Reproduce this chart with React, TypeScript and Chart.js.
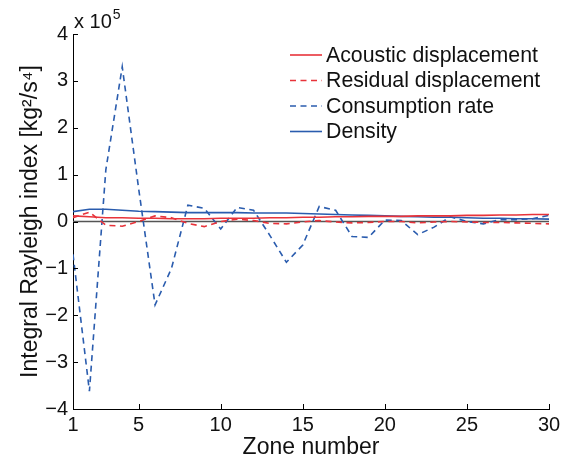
import React, { useEffect, useRef } from "react";
import { Chart, registerables } from "chart.js";

Chart.register(...registerables);

// Data (values in units of 1e5 kg^2/s^4)
const zones = [1, 2, 3, 4, 5, 6, 7, 8, 9, 10, 11, 12, 13, 14, 15, 16, 17, 18, 19, 20, 21, 22, 23, 24, 25, 26, 27, 28, 29, 30];
const acousticDisplacement = [0.12, 0.1, 0.08, 0.08, 0.07, 0.07, 0.06, 0.06, 0.06, 0.07, 0.07, 0.07, 0.08, 0.08, 0.09, 0.09, 0.1, 0.1, 0.11, 0.11, 0.11, 0.12, 0.12, 0.12, 0.13, 0.13, 0.14, 0.14, 0.15, 0.15];
const residualDisplacement = [0.08, 0.2, -0.08, -0.1, 0.0, 0.12, 0.08, -0.04, -0.11, 0.0, 0.05, 0.02, -0.04, -0.05, -0.01, 0.02, -0.01, -0.03, -0.02, 0.0, 0.0, -0.03, -0.01, 0.0, -0.01, -0.02, -0.02, -0.03, -0.04, -0.05];
const consumptionRate = [-0.7, -3.62, 1.1, 3.3, 0.7, -1.78, -1.0, 0.35, 0.28, -0.16, 0.3, 0.24, -0.3, -0.87, -0.5, 0.32, 0.24, -0.32, -0.34, 0.03, 0.02, -0.28, -0.12, 0.1, 0.0, -0.05, 0.04, 0.04, 0.06, 0.13];
const density = [0.21, 0.26, 0.26, 0.24, 0.22, 0.21, 0.2, 0.19, 0.19, 0.19, 0.19, 0.18, 0.18, 0.18, 0.17, 0.16, 0.15, 0.14, 0.13, 0.12, 0.11, 0.1, 0.09, 0.09, 0.08, 0.07, 0.07, 0.06, 0.06, 0.05];

const xTickValues = [1, 5, 10, 15, 20, 25, 30];
const yTickValues = [-4, -3, -2, -1, 0, 1, 2, 3, 4];
const yExponent = "5";

const seriesLabels = ["Acoustic displacement", "Residual displacement", "Consumption rate", "Density"];

const RED = "#e8333a";
const BLUE = "#2a5cae";
const FONT = "'Liberation Sans', Arial, Helvetica, sans-serif";

const toPoints = (vals: number[]) => zones.map((z, i) => ({ x: z, y: vals[i] }));

const decorPlugin = {
  id: "decor",
  beforeDatasetsDraw(chart: any) {
    const { ctx, chartArea, scales } = chart;
    const y0 = scales.y.getPixelForValue(0);
    ctx.save();
    ctx.strokeStyle = "#555555";
    ctx.lineWidth = 1.5;
    ctx.beginPath();
    ctx.moveTo(chartArea.left, y0);
    ctx.lineTo(chartArea.right, y0);
    ctx.stroke();
    ctx.restore();
  },
  afterDraw(chart: any) {
    const { ctx, chartArea, scales } = chart;
    ctx.save();
    // inward ticks
    ctx.strokeStyle = "#000";
    ctx.lineWidth = 1;
    ctx.beginPath();
    xTickValues.forEach((v) => {
      const px = Math.round(scales.x.getPixelForValue(v)) + 0.5;
      ctx.moveTo(px, chartArea.bottom);
      ctx.lineTo(px, chartArea.bottom - 5);
    });
    yTickValues.forEach((v) => {
      const py = Math.round(scales.y.getPixelForValue(v)) + 0.5;
      ctx.moveTo(chartArea.left, py);
      ctx.lineTo(chartArea.left + 5, py);
    });
    ctx.stroke();

    // exponent label
    ctx.fillStyle = "#111";
    ctx.textBaseline = "alphabetic";
    ctx.textAlign = "left";
    ctx.font = `20px ${FONT}`;
    const base = "x 10";
    const bx = chartArea.left + 1;
    const by = chartArea.top - 6;
    ctx.fillText(base, bx, by);
    const w = ctx.measureText(base).width;
    ctx.font = `14px ${FONT}`;
    ctx.fillText(yExponent, bx + w + 1, by - 9);

    // legend
    const lx = chartArea.left + 217;
    const ly = chartArea.top + 21;
    const rowH = 25.5;
    chart.data.datasets.forEach((ds: any, i: number) => {
      const yy = ly + i * rowH;
      ctx.strokeStyle = ds.borderColor;
      ctx.lineWidth = ds.borderWidth;
      ctx.setLineDash(ds.borderDash || []);
      ctx.beginPath();
      ctx.moveTo(lx, yy);
      ctx.lineTo(lx + 32, yy);
      ctx.stroke();
      ctx.setLineDash([]);
      ctx.fillStyle = "#111";
      ctx.font = `21.3px ${FONT}`;
      ctx.textBaseline = "middle";
      ctx.fillText(ds.label, lx + 36, yy + 1);
    });
    ctx.restore();
  },
};

export default function App() {
  const canvasRef = useRef<HTMLCanvasElement | null>(null);

  useEffect(() => {
    if (!canvasRef.current) return;
    const mk = (label: string, vals: number[], color: string, dashed: boolean) => ({
      label,
      data: toPoints(vals),
      borderColor: color,
      backgroundColor: color,
      borderWidth: 1.6,
      borderDash: dashed ? [6, 4.5] : [],
      pointRadius: 0,
      fill: false,
      tension: 0,
    });
    const chart = new Chart(canvasRef.current, {
      type: "line",
      data: {
        datasets: [
          mk(seriesLabels[0], acousticDisplacement, RED, false),
          mk(seriesLabels[1], residualDisplacement, RED, true),
          mk(seriesLabels[2], consumptionRate, BLUE, true),
          mk(seriesLabels[3], density, BLUE, false),
        ],
      },
      options: {
        animation: false,
        responsive: false,
        maintainAspectRatio: false,
        devicePixelRatio: 1,
        layout: { padding: { top: 34, right: 12, left: 0, bottom: 0 } },
        plugins: { legend: { display: false }, tooltip: { enabled: false } },
        scales: {
          x: {
            type: "linear",
            min: 1,
            max: 30,
            afterBuildTicks: (scale: any) => {
              scale.ticks = xTickValues.map((v) => ({ value: v }));
            },
            afterFit: (scale: any) => {
              scale.height = 53;
              scale.paddingRight = 0;
              scale.paddingLeft = 0;
            },
            grid: { display: false, drawTicks: false },
            border: { display: true, color: "#000", width: 1 },
            ticks: {
              color: "#111",
              font: { family: FONT, size: 20 },
              padding: 4,
              maxRotation: 0,
              autoSkip: false,
              callback: (v: any) => String(v),
            },
            title: {
              display: true,
              text: "Zone number",
              color: "#111",
              font: { family: FONT, size: 23 },
              padding: { top: 0, bottom: 1 },
            },
          },
          y: {
            type: "linear",
            min: -4,
            max: 4,
            afterBuildTicks: (scale: any) => {
              scale.ticks = yTickValues.map((v) => ({ value: v }));
            },
            afterFit: (scale: any) => {
              scale.width = 73;
            },
            grid: { display: false, drawTicks: false },
            border: { display: true, color: "#000", width: 1 },
            ticks: {
              color: "#111",
              font: { family: FONT, size: 20 },
              padding: 5,
              autoSkip: false,
              callback: (v: any) => (v < 0 ? "\u2212" + Math.abs(v) : String(v)),
            },
            title: {
              display: true,
              text: "Integral Rayleigh index [kg\u00b2/s\u2074]",
              color: "#111",
              font: { family: FONT, size: 23 },
              padding: { top: 17, bottom: 0 },
            },
          },
        },
      },
      plugins: [decorPlugin],
    } as any);
    return () => chart.destroy();
  }, []);

  return (
    <div style={{ position: "fixed", left: 0, top: 0, width: 561, height: 462, background: "#fff" }}>
      <canvas ref={canvasRef} width={561} height={462} style={{ display: "block" }} />
    </div>
  );
}
